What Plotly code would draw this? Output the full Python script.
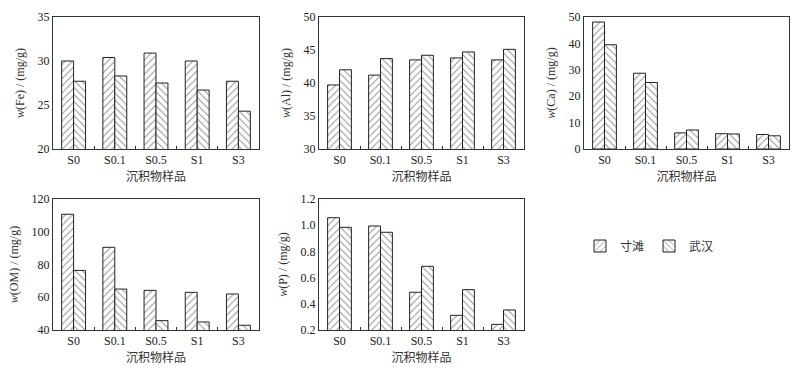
import plotly.graph_objects as go

categories = ["S0", "S0.1", "S0.5", "S1", "S3"]
series_names = ["寸滩", "武汉"]

fe_cuntan = [30.0, 30.4, 30.9, 30.0, 27.7]
fe_wuhan = [27.7, 28.3, 27.5, 26.7, 24.3]
al_cuntan = [39.7, 41.2, 43.5, 43.8, 43.5]
al_wuhan = [42.0, 43.7, 44.2, 44.7, 45.1]
ca_cuntan = [48.1, 28.7, 6.1, 5.8, 5.5]
ca_wuhan = [39.5, 25.2, 7.2, 5.7, 5.0]
om_cuntan = [110.7, 90.5, 64.2, 63.0, 62.0]
om_wuhan = [76.4, 65.0, 45.7, 44.9, 42.9]
p_cuntan = [1.057, 0.994, 0.488, 0.312, 0.243]
p_wuhan = [0.984, 0.946, 0.686, 0.508, 0.353]

panels = [
    ("Fe", fe_cuntan, fe_wuhan, [20, 35], 5, None),
    ("Al", al_cuntan, al_wuhan, [30, 50], 5, None),
    ("Ca", ca_cuntan, ca_wuhan, [0, 50], 10, None),
    ("OM", om_cuntan, om_wuhan, [40, 120], 20, None),
    ("P", p_cuntan, p_wuhan, [0.2, 1.2], 0.2, ".1f"),
]

W, H = 804, 373
boxes = [
    (53, 259, 17, 149),
    (319, 524, 17, 149),
    (584, 789, 17, 149),
    (53, 259, 199, 330),
    (319, 524, 199, 330),
]

serif = "Liberation Serif, Times New Roman, Noto Sans CJK SC, serif"
cjk = "Noto Sans CJK SC, Liberation Serif, serif"

fig = go.Figure()
layout = {}
shapes_cfg = [("/", "寸滩"), ("\\", "武汉")]

for i, (name, c_vals, w_vals, yr, dt, fmt) in enumerate(panels):
    n = "" if i == 0 else str(i + 1)
    xa, ya = "x" + n, "y" + n
    x0, x1, y0, y1 = boxes[i]
    for (shape, sname), vals in zip(shapes_cfg, [c_vals, w_vals]):
        fig.add_trace(go.Bar(
            x=categories, y=vals, name=sname, xaxis=xa, yaxis=ya,
            legendgroup=sname, showlegend=(i == 0),
            marker=dict(color="white",
                        line=dict(color="#222", width=1),
                        pattern=dict(shape=shape, size=5, solidity=0.2,
                                     fgcolor="#222", bgcolor="white")),
        ))
    layout["xaxis" + n] = dict(
        domain=[x0 / W, x1 / W], anchor=ya, automargin=False,
        showline=True, linecolor="#333", linewidth=1, mirror=True,
        ticks="inside", ticklen=3, tickcolor="#333", tickson="boundaries",
        tickfont=dict(family=serif, size=12, color="#222"),
        title=dict(text="沉积物样品", font=dict(family=cjk, size=12, color="#333"), standoff=3),
        showgrid=False, fixedrange=True,
    )
    layout["yaxis" + n] = dict(
        domain=[1 - y1 / H, 1 - y0 / H], anchor=xa, automargin=False,
        range=yr, dtick=dt, tick0=yr[0],
        showline=True, linecolor="#333", linewidth=1, mirror=True,
        ticks="", showgrid=False, zeroline=False,
        tickformat=fmt if fmt else None,
        tickfont=dict(family=serif, size=12, color="#222"),
        title=dict(text=f"<i>w</i>({name}) / (mg/g)", font=dict(family=serif, size=12, color="#333"), standoff=10),
        fixedrange=True,
    )

fig.update_layout(
    **layout,
    width=W, height=H,
    margin=dict(l=0, r=0, t=0, b=0),
    paper_bgcolor="white", plot_bgcolor="white",
    barmode="group", bargap=0.42, bargroupgap=0,
    legend=dict(orientation="h", x=580 / W, y=1 - 246 / H, xanchor="left", yanchor="middle",
                font=dict(family=cjk, size=12, color="#333"), itemwidth=30,
                bgcolor="rgba(0,0,0,0)"),
    showlegend=True,
)

fig.write_html("out.html", config={"displayModeBar": False},
               post_script="document.body.style.margin='0';document.body.style.overflow='hidden';")
